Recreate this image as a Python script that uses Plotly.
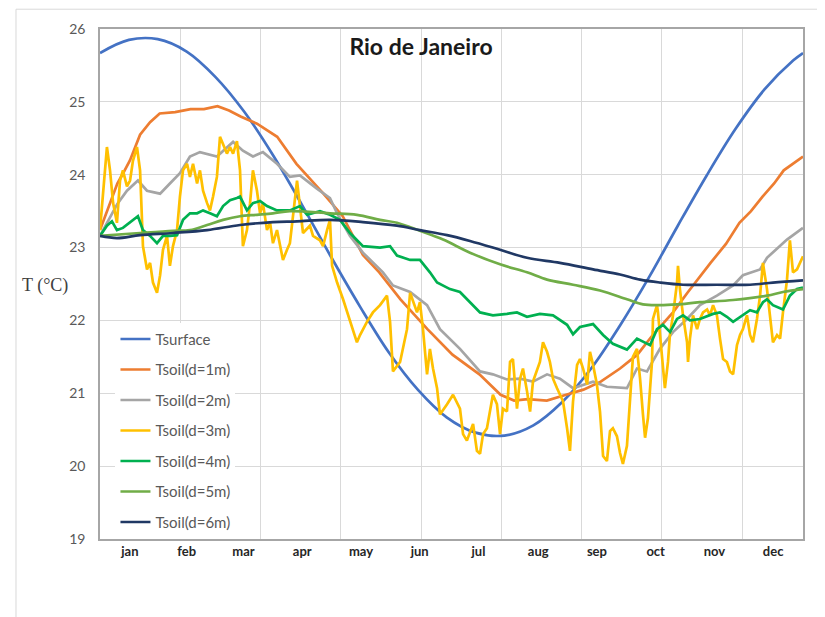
import plotly.graph_objects as go

# day of year (0-365) / temperature in degC
surf_day = [0, 15, 30, 45, 60, 75, 90, 105, 120, 135, 150, 165, 180, 195, 210,
            225, 240, 255, 270, 285, 300, 315, 330, 345, 360, 365]
surf_t = [25.67, 25.85, 25.86, 25.69, 25.34, 24.86, 24.26, 23.58, 22.87, 22.19,
          21.56, 21.05, 20.67, 20.46, 20.42, 20.56, 20.88, 21.34, 21.93, 22.59,
          23.30, 23.99, 24.63, 25.17, 25.57, 25.67]

d1_day = [0, 3, 6, 9, 12, 15.6, 20.8, 26, 31, 39, 47, 54, 61, 67, 73, 81.5, 92,
          102, 116, 126, 136.5, 145, 156, 170, 183, 197, 208, 215, 222, 232,
          242, 251, 260, 270, 279, 287, 297.5, 305, 317, 325, 332, 338, 344,
          350, 355, 360, 365]
d1_t = [23.24, 23.45, 23.68, 23.88, 24.02, 24.2, 24.55, 24.72, 24.84, 24.86,
        24.9, 24.9, 24.94, 24.88, 24.8, 24.7, 24.52, 24.15, 23.74, 23.43, 22.9,
        22.66, 22.29, 21.88, 21.53, 21.26, 20.98, 20.9, 20.92, 20.9, 20.98,
        21.05, 21.16, 21.34, 21.53, 21.8, 22.11, 22.38, 22.79, 23.05, 23.34,
        23.5, 23.7, 23.88, 24.06, 24.15, 24.25]

d2_day = [0, 4, 9, 14, 19.7, 24.4, 31.2, 36.3, 41.5, 46.7, 51.9, 60.7, 69.1,
          74.2, 79.4, 84.6, 91.9, 98.6, 103.8, 112.6, 119.4, 123.1, 129.8,
          136.5, 146.9, 152.1, 161, 169.8, 176.5, 186.9, 197.3, 204, 211.3,
          218.1, 224.8, 232.1, 238.8, 245.6, 256, 263.2, 273.6, 278.8, 284,
          290.7, 297.5, 304.8, 311.5, 320.3, 328.7, 333.8, 342.7, 346.3,
          356.7, 365]
d2_t = [23.16, 23.35, 23.6, 23.78, 23.92, 23.78, 23.74, 23.88, 24.02, 24.25,
        24.31, 24.25, 24.45, 24.33, 24.25, 24.31, 24.15, 23.97, 23.99, 23.81,
        23.68, 23.47, 23.16, 22.93, 22.66, 22.48, 22.39, 22.21, 21.88, 21.61,
        21.3, 21.26, 21.19, 21.2, 21.16, 21.26, 21.2, 21.07, 21.16, 21.09,
        21.07, 21.34, 21.3, 21.61, 21.84, 22.02, 22.21, 22.34, 22.48, 22.62,
        22.7, 22.86, 23.11, 23.27]

d3_day = [0, 3.6, 5.2, 6.8, 8.8, 10.4, 11.9, 14, 15.6, 17.1, 19.2, 20.8, 21.8,
          22.3, 24.4, 26, 27.5, 29.6, 31.2, 32.7, 34.8, 36.3, 37.9, 40, 41.5,
          43.1, 45.2, 46.7, 48.3, 50.4, 51.9, 53.5, 55.6, 57.1, 58.7, 60.7,
          62.3, 63.9, 65.9, 67.5, 69.1, 71.1, 72.7, 74.2, 76.3, 77.9, 79.4,
          81.5, 83.1, 84.6, 86.7, 88.3, 89.8, 91.9, 93.5, 95, 97.1, 98.6,
          102.3, 103.8, 105.4, 109, 110.6, 114.2, 115.8, 117.9, 119.4, 120.5,
          123.1, 126.2, 129.8, 133.4, 135, 138.6, 141.7, 145.4, 149, 150.6,
          152.1, 155.8, 159.4, 161, 164.6, 166.1, 167.7, 169.8, 171.3, 172.9,
          175, 176.5, 180.2, 183.3, 186.9, 188.5, 190.5, 193.7, 195.7, 197.3,
          198.9, 200.9, 204, 206.1, 207.7, 209.2, 211.3, 212.9, 214.4, 216.5,
          218.1, 219.6, 221.7, 223.3, 224.8, 228.4, 230, 232.1, 233.6, 235.2,
          237.3, 238.8, 240.4, 242.5, 244, 245.6, 247.7, 249.2, 250.8, 252.9,
          254.4, 256, 258, 259.6, 261.2, 263.2, 264.8, 266.3, 268.4, 270,
          271.5, 273.6, 275.2, 276.7, 278.8, 280.4, 281.9, 283, 284.5, 286.6,
          287.1, 289.2, 289.7, 291.8, 293.3, 294.9, 295.9, 297.5, 299.6, 300.1,
          301.1, 302.7, 303.7, 304.8, 305.3, 306.3, 307.9, 310, 311.5, 313.1,
          315.2, 316.7, 318.3, 320.3, 321.9, 323.5, 325.5, 327.1, 328.7, 330.7,
          332.3, 333.8, 335.9, 337.5, 339, 341.1, 342.7, 344.2, 346.3, 347.9,
          349.4, 351.5, 353.1, 354.6, 356.7, 358.2, 359.8, 361.9, 363.4, 365]
d3_t = [23.24, 24.38, 24.06, 23.61, 23.34, 23.92, 24.06, 23.84, 23.92, 24.19,
        24.38, 24.06, 23.38, 23.02, 22.7, 22.79, 22.52, 22.38, 22.62, 22.97,
        23.16, 22.75, 23.02, 23.24, 23.7, 24.06, 24.15, 23.97, 24.15, 23.88,
        24.06, 23.78, 23.61, 23.51, 23.7, 23.97, 24.52, 24.42, 24.29, 24.38,
        24.29, 24.46, 24.06, 23.02, 23.24, 23.61, 24.06, 23.78, 23.47, 23.61,
        23.24, 23.34, 23.06, 23.24, 23.02, 22.83, 22.97, 23.06, 23.92, 23.57,
        23.2, 23.3, 23.16, 23.1, 23.02, 23.24, 23.38, 22.75, 22.52, 22.29,
        22.0, 21.7, 21.8, 21.98, 22.11, 22.21, 22.34, 21.98, 21.3, 21.43,
        21.88, 22.38, 22.11, 22.25, 21.88, 21.26, 21.61, 21.34, 21.07, 20.71,
        20.85, 20.98, 20.79, 20.44, 20.35, 20.58, 20.21, 20.17, 20.44, 20.52,
        20.98, 20.85, 20.44, 20.79, 20.75, 21.43, 21.47, 20.79, 21.2, 21.34,
        21.03, 20.75, 21.16, 21.43, 21.7, 21.57, 21.43, 21.2, 21.07, 20.98,
        20.89, 20.52, 20.21, 20.89, 21.39, 21.47, 21.34, 21.12, 21.57, 21.39,
        21.12, 20.75, 20.14, 20.07, 20.48, 20.52, 20.41, 20.18, 20.03, 20.28,
        20.85, 21.5, 21.61, 21.2, 20.71, 20.39, 20.66, 21.43, 22.02, 22.21,
        22.11, 21.53, 21.07, 21.43, 21.8, 22.07, 22.52, 22.75, 22.43, 22.07,
        21.88, 21.7, 21.43, 21.75, 22.07, 21.88, 22.02, 22.11, 22.15, 22.07,
        22.21, 22.07, 21.75, 21.47, 21.43, 21.3, 21.26, 21.66, 21.8, 21.88,
        22.07, 21.8, 21.7, 22.02, 22.34, 22.79, 22.43, 22.02, 21.7, 21.8,
        21.75, 22.11, 22.56, 23.1, 22.66, 22.7, 22.79, 22.88]

d4_day = [0, 3.6, 6.2, 8.8, 11.9, 15.6, 19.7, 22.3, 26, 29.6, 32.7, 36.3, 40,
          43.1, 46.7, 50.4, 53.5, 57.1, 60.7, 63.9, 67.5, 71.1, 72.7, 76.3,
          79.4, 83.1, 86.7, 91.9, 98.6, 103.8, 107.5, 114.2, 119.4, 124.6,
          129.8, 136.5, 145.4, 150.6, 154.2, 161, 166.1, 171.3, 175, 181.7,
          186.9, 197.3, 204, 211.3, 216.5, 221.7, 228.4, 235.2, 242.5, 245.6,
          249.2, 256, 261.2, 266.3, 273.6, 278.8, 281.9, 285.6, 289.2, 292.3,
          296, 299.6, 302.7, 306.3, 311.5, 318.3, 321.9, 325.5, 328.7, 333.8,
          337.5, 341.1, 344.2, 346.3, 349.4, 354.6, 358.2, 361.9, 365]
d4_t = [23.16, 23.3, 23.36, 23.24, 23.27, 23.34, 23.43, 23.24, 23.16, 23.06,
        23.16, 23.16, 23.17, 23.38, 23.47, 23.47, 23.51, 23.47, 23.43, 23.57,
        23.65, 23.68, 23.7, 23.51, 23.61, 23.64, 23.57, 23.51, 23.51, 23.57,
        23.45, 23.5, 23.45, 23.38, 23.2, 23.02, 23.0, 23.02, 22.89, 22.83,
        22.83, 22.66, 22.52, 22.43, 22.39, 22.11, 22.07, 22.09, 22.11, 22.05,
        22.09, 22.07, 21.94, 21.81, 21.91, 21.95, 21.8, 21.68, 21.6, 21.75,
        21.71, 21.66, 21.88, 21.94, 21.84, 22.02, 22.07, 22.0, 22.02, 22.09,
        22.11, 22.05, 21.98, 22.07, 22.14, 22.11, 22.25, 22.29, 22.21, 22.15,
        22.34, 22.43, 22.45]

d5_day = [0, 20.8, 37.9, 46.7, 55.6, 63.9, 72.7, 81.5, 89.8, 98.6, 119.4, 133.4,
          145.4, 154.2, 166.1, 178.1, 192.1, 207.7, 221.7, 232.1, 245.6, 259.6,
          273.6, 281.9, 290.7, 299.6, 311.5, 328.7, 346.3, 354.6, 365]
d5_t = [23.16, 23.2, 23.23, 23.24, 23.31, 23.38, 23.43, 23.45, 23.47, 23.5,
        23.47, 23.45, 23.38, 23.34, 23.23, 23.11, 22.93, 22.77, 22.66, 22.56,
        22.49, 22.41, 22.29, 22.22, 22.21, 22.22, 22.25, 22.28, 22.34, 22.39,
        22.43]

d6_day = [0, 8.8, 20.8, 37.9, 55.6, 72.7, 89.8, 102.3, 119.4, 136.5, 154.2,
          166.1, 180.2, 192.1, 207.7, 221.7, 238.8, 256, 270, 280.4, 290.7,
          302.7, 320.3, 337.5, 349.4, 365]
d6_t = [23.16, 23.13, 23.17, 23.2, 23.24, 23.31, 23.35, 23.36, 23.38, 23.35,
        23.3, 23.24, 23.17, 23.09, 22.97, 22.86, 22.79, 22.7, 22.63, 22.56,
        22.52, 22.49, 22.49, 22.49, 22.52, 22.55]

# vertical gridlines of the source sheet: every 1000 hourly samples
grid_days = [0, 41.67, 83.33, 125, 166.67, 208.33, 250, 291.67, 333.33]
month_mid = [15.5, 45, 74.5, 105, 135.5, 166, 196.5, 227.5, 258, 288.5, 319, 349.5]
month_lbl = ["jan", "feb", "mar", "apr", "may", "jun",
             "jul", "aug", "sep", "oct", "nov", "dec"]

series = [
    ("Tsurface", surf_day, surf_t, "#4472C4", "spline"),
    ("Tsoil(d=1m)", d1_day, d1_t, "#ED7D31", "linear"),
    ("Tsoil(d=2m)", d2_day, d2_t, "#A5A5A5", "linear"),
    ("Tsoil(d=3m)", d3_day, d3_t, "#FFC000", "linear"),
    ("Tsoil(d=4m)", d4_day, d4_t, "#00B050", "linear"),
    ("Tsoil(d=5m)", d5_day, d5_t, "#70AD47", "spline"),
    ("Tsoil(d=6m)", d6_day, d6_t, "#203864", "spline"),
]

fig = go.Figure()
for name, xs, ys, color, shape in series:
    fig.add_trace(go.Scatter(
        x=xs, y=ys, name=name, mode="lines", legendgroup=name,
        line=dict(color=color, width=2.7, shape=shape),
    ))

# the page body adds an 8px offset, margins compensate for it
fig.update_layout(
    width=825, height=617,
    margin=dict(l=92, r=30, t=16, b=86),
    paper_bgcolor="white", plot_bgcolor="white",
    font=dict(family="Lato", color="#595959"),
    showlegend=True,
    title=dict(text="<b>Rio de Janeiro</b>", x=413 / 825, xanchor="center",
               y=1 - 39 / 617, yanchor="middle",
               font=dict(family="Lato", size=23, color="#1a1a1a")),
    legend=dict(x=0.022, y=0.424, xanchor="left", yanchor="top",
                bgcolor="white", borderwidth=0, traceorder="grouped",
                tracegroupgap=8, font=dict(family="Lato", size=15, color="#595959")),
)

fig.update_xaxes(
    range=[0, 365], showgrid=False, zeroline=False,
    tickmode="array", tickvals=month_mid, ticktext=month_lbl, ticks="",
    tickfont=dict(family="Lato", size=13, color="#262626", weight="bold"),
    showline=True, linecolor="#A6A6A6", linewidth=1.5, mirror=True,
    minor=dict(tickmode="array", tickvals=grid_days, showgrid=True,
               gridcolor="#D9D9D9", gridwidth=1.2, ticks=""),
)
fig.update_yaxes(
    range=[19, 26], dtick=1, showgrid=True, gridcolor="#D9D9D9", gridwidth=1.2,
    zeroline=False, ticks="", ticklabelstandoff=10,
    tickfont=dict(family="Lato", size=14, color="#595959"),
    showline=True, linecolor="#A6A6A6", linewidth=1.5, mirror=True,
)

fig.add_annotation(text="T (\u00b0C)", xref="paper", yref="paper",
                   x=-0.043, y=(539 - 283) / 515, xanchor="right", yanchor="middle",
                   showarrow=False,
                   font=dict(family="Liberation Serif", size=18, color="#404040"))

# outer chart frame
fig.add_shape(type="rect", xref="paper", yref="paper",
              x0=-0.1195, x1=1.05, y0=-0.2, y1=1.0388,
              line=dict(color="#D9D9D9", width=1), fillcolor="rgba(0,0,0,0)", layer="below")

fig.write_html("out.html")
